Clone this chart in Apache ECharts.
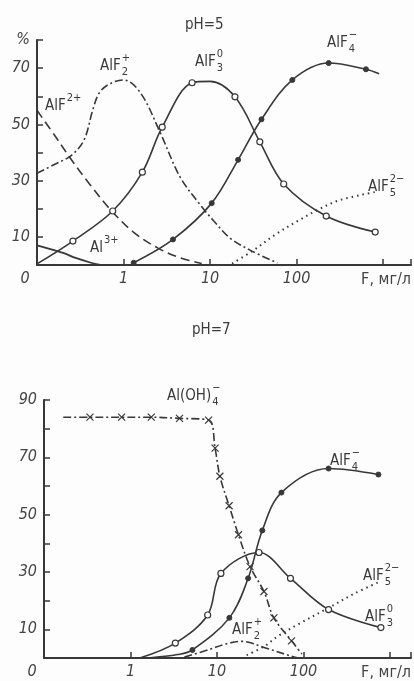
<!DOCTYPE html>
<html style="height: 100%">
<head>
<meta charset="utf-8">
</head>
<body style="height: 100%; margin: 0; background: #fdfdfd">
<div id="container" style="width: 414px; height: 681px"></div>
<script type="text/javascript" src="https://cdn.jsdelivr.net/npm/echarts/dist/echarts.min.js"></script>
<script type="text/javascript">
// ---- data, pH = 5 (top) ----
var t_AlF_x  = [0.1, 0.165, 0.25, 0.4, 0.71, 1.3, 2.5, 4.5, 8];
var t_AlF_y  = [55, 45.5, 37.4, 29, 19.6, 11.7, 6, 2.6, 0.5];
var t_AlF2_x = [0.1, 0.165, 0.25, 0.35, 0.44, 0.52, 0.68, 1, 1.57, 2.66, 4.5, 7.7, 10.8, 17, 29, 60];
var t_AlF2_y = [32.6, 36, 39, 44.5, 55, 61, 64.3, 65.8, 61.2, 47, 31.3, 21.4, 16, 9.6, 5.3, 0.7];
var t_Al_x   = [0.1, 0.2, 0.28, 0.42, 0.54];
var t_Al_y   = [7, 4.3, 2.5, 0.8, 0];
var t_AlF3_x = [0.1, 0.26, 0.75, 1.65, 2.8, 6.2, 10, 19.4, 37.6, 71, 220, 810];
var t_AlF3_y = [0.4, 8.5, 19.2, 33, 49, 64.8, 65.3, 59.8, 43.8, 28.8, 17.4, 11.7];
var t_AlF3_m = [0, 1, 1, 1, 1, 1, 0, 1, 1, 1, 1, 1];
var t_AlF4_x = [1.31, 3.73, 10.45, 21.1, 39.3, 89.3, 235, 633, 900];
var t_AlF4_y = [0.8, 9.1, 22, 37.4, 51.8, 65.8, 71.8, 69.6, 68];
var t_AlF4_m = [1, 1, 1, 1, 1, 1, 1, 1, 0];
var t_AlF5_x = [18, 31, 58, 108, 176, 311, 826];
var t_AlF5_y = [0.5, 5, 11, 16, 19.6, 23, 26];

// ---- data, pH = 7 (bottom) ----
var b_AlOH_x = [0.167, 0.34, 0.79, 1.74, 3.69, 8.0, 9.5, 10.8, 13.8, 17.7, 24.1, 34.9, 45.5, 72.7, 96];
var b_AlOH_y = [84, 84, 84, 84, 83.6, 83, 73.2, 63.4, 53.1, 43, 31.9, 23.2, 14, 6, 1.4];
var b_AlOH_m = [0, 1, 1, 1, 1, 1, 1, 1, 1, 1, 1, 1, 1, 1, 0];
var b_AlF3_x = [1.28, 3.3, 7.8, 11.1, 30.6, 70.7, 195, 785];
var b_AlF3_y = [0, 5.2, 15, 29.5, 36.8, 27.8, 16.9, 10.6];
var b_AlF3_m = [0, 1, 1, 1, 1, 1, 1, 1];
var b_AlF4_x = [1.6, 3.5, 5.2, 13.9, 22.9, 33.4, 55.6, 195, 735];
var b_AlF4_y = [0, 1.2, 2.8, 14, 27.8, 44.5, 57.7, 66.1, 64];
var b_AlF4_m = [0, 0, 1, 1, 1, 1, 1, 1, 1];
var b_AlF2_x = [4.2, 8.2, 13, 19.6, 34.9, 68, 88];
var b_AlF2_y = [0.3, 3, 5, 5.8, 3.7, 0.9, 0];
var b_AlF5_x = [22, 35, 50, 90, 195, 390, 770];
var b_AlF5_y = [1, 4, 7.5, 12, 17.5, 22.5, 26.7];

var xLabels = [0.1, 1, 10, 100];

var dom = document.getElementById("container");
var myChart = echarts.init(dom);

var INK = '#383838';
var FONT = "'DejaVu Sans Condensed', 'Liberation Sans Narrow', sans-serif";

function mk(xs, ys, marks) {
    return xs.map(function (x, i) {
        var d = {value: [x, ys[i]]};
        if (!marks || !marks[i]) d.symbol = 'none';
        return d;
    });
}

function line(data, grid, dash, extra) {
    var s = {
        type: 'line', xAxisIndex: grid, yAxisIndex: grid, data: data,
        smooth: 0.35, silent: true, showSymbol: false,
        lineStyle: {color: INK, width: 1.6, type: dash || 'solid'}
    };
    for (var k in extra) s[k] = extra[k];
    return s;
}
var openDot = {showSymbol: true, symbol: 'circle', symbolSize: 6,
    itemStyle: {color: '#fff', borderColor: INK, borderWidth: 1.2}};
var fullDot = {showSymbol: true, symbol: 'circle', symbolSize: 5,
    itemStyle: {color: INK, borderColor: INK, borderWidth: 1}};
var cross = {showSymbol: true, symbol: 'path://M0,0L10,10M10,0L0,10', symbolSize: 7,
    itemStyle: {color: 'none', borderColor: INK, borderWidth: 1.2}};

function xAxis(grid, max) {
    return {
        type: 'log', logBase: 10, min: 0.1, max: max, gridIndex: grid,
        axisLine: {lineStyle: {color: INK, width: 2}},
        axisTick: {inside: true, length: 6, lineStyle: {color: INK, width: 1.5}},
        splitLine: {show: false},
        axisLabel: {
            margin: 6, color: '#444', fontStyle: 'italic', fontSize: 16, fontFamily: FONT,
            formatter: function (v) {
                if (Math.abs(v - 0.1) < 1e-6) return '{z|0}';
                for (var i = 1; i < xLabels.length; i++) {
                    if (Math.abs(v - xLabels[i]) < 1e-6) return String(xLabels[i]);
                }
                return '';
            },
            rich: {z: {fontStyle: 'italic', fontSize: 16, fontFamily: FONT, color: '#444', padding: [0, 24, 0, 0]}}
        },
        name: 'F, мг/л', nameLocation: 'end', nameGap: 0,
        nameTextStyle: {color: '#444', fontSize: 16, fontFamily: FONT, align: 'right',
            verticalAlign: 'top', padding: [7, 0, 0, 0]}
    };
}
function yAxis(grid, max, topLabel) {
    return {
        type: 'value', min: 0, max: max, interval: 10, gridIndex: grid,
        axisLine: {show: true, lineStyle: {color: INK, width: 2}},
        axisTick: {show: true, inside: true, length: 6, lineStyle: {color: INK, width: 1.5}},
        splitLine: {show: false},
        axisLabel: {
            margin: 7, color: '#444', fontStyle: 'italic', fontSize: 16, fontFamily: FONT,
            formatter: function (v) {
                if (v === max && topLabel) return topLabel;
                return (v / 10) % 2 === 1 ? String(v) : '';
            }
        }
    };
}

// species labels with sub/superscripts
var graphics = [];
var ctx = document.createElement('canvas').getContext('2d');
function lab(x, y, main, sub, sup) {
    var f = '15px ' + FONT;
    ctx.font = f;
    var w = ctx.measureText(main).width;
    graphics.push({type: 'text', x: x, y: y, silent: true,
        style: {text: main, font: f, fill: '#3a3a3a', verticalAlign: 'middle', align: 'left'}});
    if (sub) graphics.push({type: 'text', x: x + w + 1, y: y + 6, silent: true,
        style: {text: sub, font: '11px ' + FONT, fill: '#3a3a3a', verticalAlign: 'middle', align: 'left'}});
    if (sup) graphics.push({type: 'text', x: x + w + 1, y: y - 8, silent: true,
        style: {text: sup, font: '11px ' + FONT, fill: '#3a3a3a', verticalAlign: 'middle', align: 'left'}});
}
lab(185, 25, 'pH=5');
lab(45, 106, 'AlF', null, '2+');
lab(100, 66, 'AlF', '2', '+');
lab(195, 62, 'AlF', '3', '0');
lab(327, 43, 'AlF', '4', '−');
lab(368, 187, 'AlF', '5', '2−');
lab(90, 248, 'Al', null, '3+');
lab(192, 330, 'pH=7');
lab(167, 396, 'Al(OH)', '4', '−');
lab(330, 461, 'AlF', '4', '−');
lab(363, 576, 'AlF', '5', '2−');
lab(365, 617, 'AlF', '3', '0');
lab(232, 630, 'AlF', '2', '+');

var DASHDOT = [8, 3, 2, 3];
option = {
    animation: false,
    backgroundColor: '#fdfdfd',
    grid: [
        {left: 37, right: 1, top: 40, height: 225},
        {left: 44, right: 1, top: 400, height: 261}
    ],
    xAxis: [xAxis(0, 2100), xAxis(1, 1750)],
    yAxis: [yAxis(0, 80, '%'), yAxis(1, 90)],
    graphic: graphics,
    series: [
        line(mk(t_AlF_x, t_AlF_y), 0, [9, 5]),
        line(mk(t_AlF2_x, t_AlF2_y), 0, DASHDOT),
        line(mk(t_Al_x, t_Al_y), 0, 'solid', {lineStyle: {color: INK, width: 1.8}}),
        line(mk(t_AlF3_x, t_AlF3_y, t_AlF3_m), 0, 'solid', openDot),
        line(mk(t_AlF4_x, t_AlF4_y, t_AlF4_m), 0, 'solid', fullDot),
        line(mk(t_AlF5_x, t_AlF5_y), 0, [1.5, 4], {lineStyle: {color: INK, width: 2, type: [1.5, 4]}}),
        line(mk(b_AlOH_x, b_AlOH_y, b_AlOH_m), 1, DASHDOT, cross),
        line(mk(b_AlF3_x, b_AlF3_y, b_AlF3_m), 1, 'solid', openDot),
        line(mk(b_AlF4_x, b_AlF4_y, b_AlF4_m), 1, 'solid', fullDot),
        line(mk(b_AlF2_x, b_AlF2_y), 1, DASHDOT),
        line(mk(b_AlF5_x, b_AlF5_y), 1, [1.5, 4], {lineStyle: {color: INK, width: 2, type: [1.5, 4]}})
    ]
};
if (option && typeof option === "object") {
    myChart.setOption(option, true);
}
</script>
</body>
</html>
